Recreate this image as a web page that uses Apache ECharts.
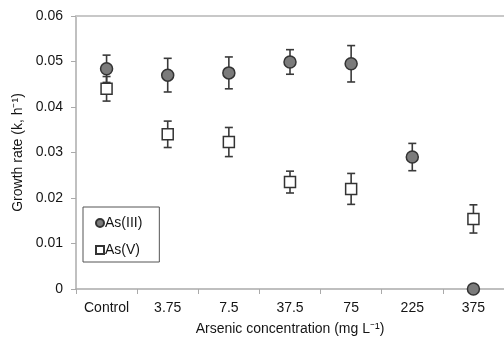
<!DOCTYPE html>
<html>
<head>
<meta charset="utf-8">
<script src="https://cdn.jsdelivr.net/npm/echarts@6/dist/echarts.min.js"></script>
<style>html,body{margin:0;padding:0;background:#fff}#c{width:504px;height:341px}</style>
</head>
<body>
<div id="c"></div>
<script>
const categories = ['Control', '3.75', '7.5', '37.5', '75', '225', '375'];
const yTicks = [0, 0.01, 0.02, 0.03, 0.04, 0.05, 0.06];
const as3 = [0.0484, 0.0470, 0.0475, 0.0499, 0.0495, 0.0290, 0];
const as3Err = [0.0030, 0.0037, 0.0035, 0.0027, 0.0040, 0.0030, 0];
const as5 = [0.0440, 0.0340, 0.0323, 0.0235, 0.0220, null, 0.0154];
const as5Err = [0.0027, 0.0029, 0.0032, 0.0024, 0.0034, null, 0.0031];

function errData(vals, errs) {
  const out = [];
  vals.forEach((v, i) => {
    if (v !== null && errs[i] > 0) out.push([i, v - errs[i], v + errs[i]]);
  });
  return out;
}
function renderErr(params, api) {
  const x = api.value(0);
  const lo = api.coord([x, api.value(1)]);
  const hi = api.coord([x, api.value(2)]);
  const hw = 4;
  const st = { stroke: '#3a3a3a', lineWidth: 1.6 };
  return {
    type: 'group',
    children: [
      { type: 'line', shape: { x1: lo[0], y1: lo[1], x2: hi[0], y2: hi[1] }, style: st },
      { type: 'line', shape: { x1: lo[0] - hw, y1: lo[1], x2: lo[0] + hw, y2: lo[1] }, style: st },
      { type: 'line', shape: { x1: hi[0] - hw, y1: hi[1], x2: hi[0] + hw, y2: hi[1] }, style: st }
    ]
  };
}
const font = 'Liberation Sans, Arial, sans-serif';
const txt = '#151515';
const chart = echarts.init(document.getElementById('c'), null, { renderer: 'canvas' });
chart.setOption({
  animation: false,
  backgroundColor: '#fff',
  grid: { left: 76, top: 16, width: 434, height: 273, containLabel: false },
  legend: {
    orient: 'vertical',
    left: 83, top: 207,
    padding: [9, 17, 5, 12],
    itemGap: 13,
    itemWidth: 8, itemHeight: 8,
    borderColor: '#555', borderWidth: 1,
    textStyle: { fontFamily: font, fontSize: 14, color: txt, padding: [0, 0, 0, -4] },
    data: [{ name: 'As(III)', icon: 'circle' }, { name: 'As(V)', icon: 'rect' }]
  },
  xAxis: [{
    type: 'category',
    data: categories,
    boundaryGap: true,
    name: 'Arsenic concentration (mg L\u207B\u00B9)',
    nameLocation: 'middle', nameGap: 33,
    nameTextStyle: { fontFamily: font, fontSize: 14, color: txt },
    axisLine: { lineStyle: { color: '#aaa', width: 1.5 } },
    axisTick: { show: true, length: 5, lineStyle: { color: '#aaa' } },
    axisLabel: { fontFamily: font, fontSize: 14, color: txt, margin: 12 },
    splitLine: { show: false }
  }, {
    type: 'category',
    position: 'top',
    data: categories,
    axisLine: { lineStyle: { color: '#c8c8c8', width: 2 } },
    axisTick: { show: false }, axisLabel: { show: false }
  }],
  yAxis: {
    type: 'value',
    min: yTicks[0], max: yTicks[yTicks.length - 1], interval: 0.01,
    name: 'Growth rate (k, h\u207B\u00B9)',
    nameLocation: 'middle', nameGap: 45,
    nameTextStyle: { fontFamily: font, fontSize: 14, color: txt },
    axisLine: { show: true, lineStyle: { color: '#c0c0c0', width: 2 } },
    axisTick: { show: true, length: 5, lineStyle: { color: '#aaa' } },
    axisLabel: { fontFamily: font, fontSize: 14, color: txt, margin: 13,
      formatter: v => (v === 0 ? '0' : v.toFixed(2)) },
    splitLine: { show: false }
  },
  series: [
    { type: 'custom', name: 'errIII', renderItem: renderErr, data: errData(as3, as3Err),
      encode: { x: 0, y: [1, 2] }, z: 1, silent: true },
    { type: 'custom', name: 'errV', renderItem: renderErr, data: errData(as5, as5Err),
      encode: { x: 0, y: [1, 2] }, z: 1, silent: true },
    { type: 'scatter', name: 'As(III)', data: as3, symbol: 'circle', symbolSize: 12, z: 3,
      itemStyle: { color: '#7b7b7b', borderColor: '#333', borderWidth: 1.5, opacity: 1 } },
    { type: 'scatter', name: 'As(V)', data: as5, symbol: 'rect', symbolSize: 11, z: 3,
      itemStyle: { color: '#fff', borderColor: '#333', borderWidth: 1.5, opacity: 1 } }
  ]
});
</script>
</body>
</html>
